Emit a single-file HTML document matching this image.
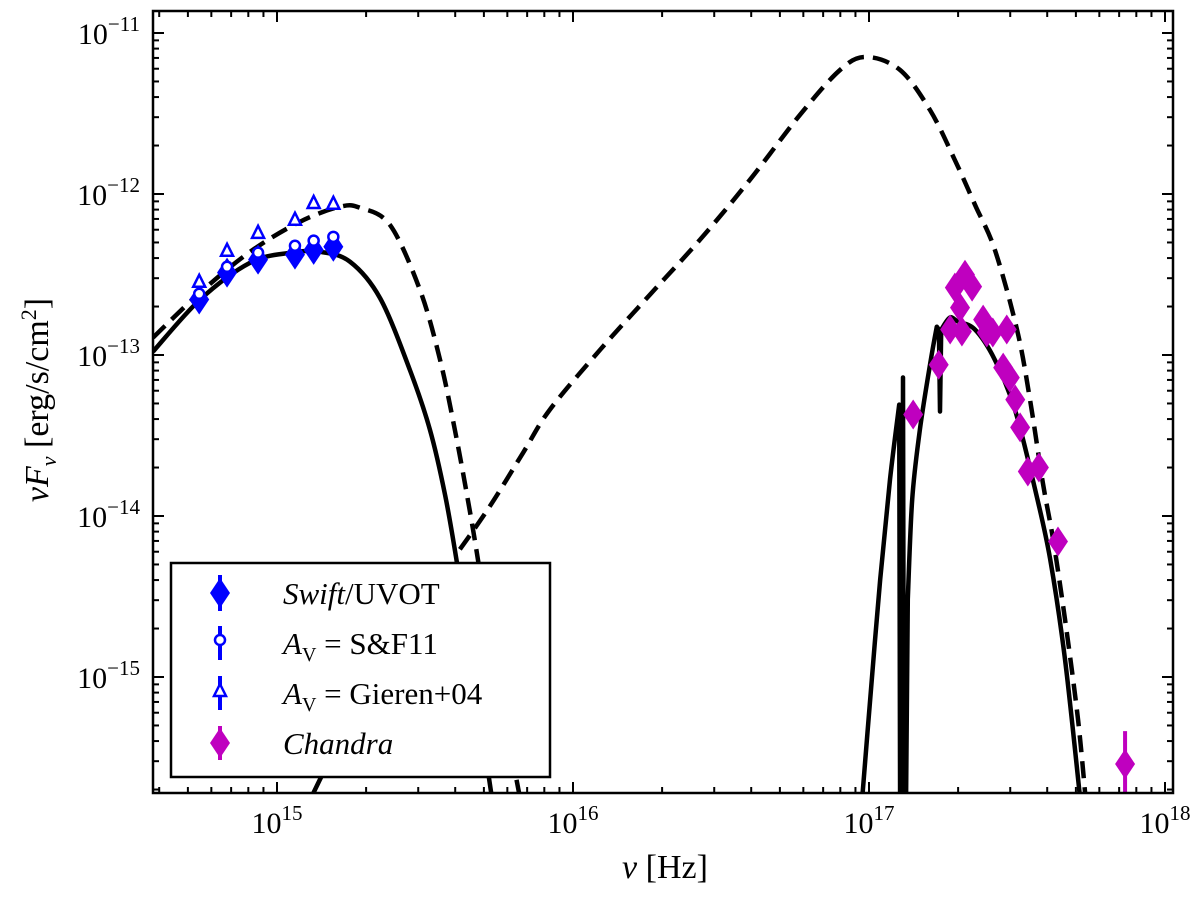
<!DOCTYPE html>
<html><head><meta charset="utf-8"><style>
body{margin:0;background:#fff;}
svg{display:block;font-family:"Liberation Serif",serif;}
</style></head><body>
<svg id="chart" width="1200" height="898" viewBox="0 0 1200 898" xmlns="http://www.w3.org/2000/svg">
<rect width="1200" height="898" fill="#fff"/>
<defs><clipPath id="plotclip"><rect x="153" y="11" width="1020" height="782"/></clipPath></defs>
<g id="curves" clip-path="url(#plotclip)"></g>
<g id="points" clip-path="url(#plotclip)"></g>
<g id="axes"></g>
<g id="legend"></g>
<text x="665" y="878" font-size="34" text-anchor="middle"><tspan font-style="italic">ν</tspan> [Hz]</text>
<text transform="translate(48,400) rotate(-90)" font-size="34" text-anchor="middle"><tspan font-style="italic">νF</tspan><tspan font-style="italic" font-size="22" dy="8">ν</tspan><tspan dy="-8"> [erg/s/cm</tspan><tspan font-size="22" dy="-12">2</tspan><tspan dy="12">]</tspan></text>
</svg>
<script>
// ---- data ----
const swiftNu = [5.46e14, 6.78e14, 8.63e14, 1.15e15, 1.33e15, 1.55e15];
const swiftFlux = [2.21e-13, 3.25e-13, 3.91e-13, 4.2e-13, 4.5e-13, 4.7e-13];
const sf11Flux = [2.4e-13, 3.53e-13, 4.32e-13, 4.77e-13, 5.13e-13, 5.42e-13];
const gierenFlux = [2.85e-13, 4.44e-13, 5.74e-13, 6.92e-13, 8.8e-13, 8.7e-13];
const chandraNu = [1.41e17,1.72e17,1.88e17,2.06e17,1.95e17,2.11e17,2.23e17,2.03e17,2.43e17,2.50e17,2.62e17,2.92e17,2.84e17,2.99e17,3.12e17,3.24e17,3.44e17,3.75e17,4.35e17,7.33e17];
const chandraFlux = [4.27e-14,8.7e-14,1.44e-13,1.40e-13,2.62e-13,3.15e-13,2.66e-13,1.97e-13,1.66e-13,1.38e-13,1.38e-13,1.44e-13,8.35e-14,7.24e-14,5.28e-14,3.55e-14,1.89e-14,2.0e-14,6.95e-15,2.88e-16];
const chandraErrFrac = [0.1,0.1,0.1,0.1,0.1,0.1,0.1,0.1,0.1,0.1,0.1,0.1,0.1,0.1,0.1,0.1,0.1,0.1,0.1,0.6];
// model curves in log10 units
const solidLeftLogNu = [14.581,14.740,14.909,15.044,15.145,15.247,15.348,15.449,15.517,15.568,15.608,15.652,15.73];
const solidLeftLogF = [-12.979,-12.656,-12.427,-12.365,-12.359,-12.421,-12.646,-13.093,-13.466,-13.870,-14.292,-14.832,-15.8];
const solidLowLogNu = [15.102,15.162,15.213];
const solidLowLogF = [-15.8,-15.572,-15.386];
const dashLeftLogNu = [14.581,14.740,14.909,15.078,15.213,15.281,15.382,15.483,15.551,15.601,15.645,15.679,15.720,15.826];
const dashLeftLogF = [-12.892,-12.613,-12.359,-12.172,-12.079,-12.086,-12.193,-12.596,-13.031,-13.466,-13.901,-14.273,-14.770,-15.8];
const dashRightLogNu = [15.618,15.719,15.832,15.922,16.092,16.260,16.429,16.598,16.767,16.902,16.990,17.105,17.206,17.290,17.358,17.425,17.500,17.544,17.587,17.622,17.662,17.706,17.734];
const dashRightLogF = [-14.207,-13.940,-13.605,-13.339,-12.967,-12.625,-12.284,-11.911,-11.508,-11.230,-11.149,-11.230,-11.478,-11.788,-12.067,-12.346,-12.842,-13.277,-13.792,-14.145,-14.641,-15.262,-15.8];
const solidRightLogNu = [16.975,17.004,17.038,17.071,17.102,17.105,17.112,17.115,17.118,17.125,17.131,17.146,17.172,17.206,17.229,17.236,17.240,17.244,17.273,17.301,17.358,17.425,17.493,17.561,17.612,17.662,17.716];
const solidRightLogF = [-15.8,-15.138,-14.393,-13.773,-13.308,-15.8,-15.8,-13.140,-15.8,-15.8,-14.517,-13.897,-13.463,-13.060,-12.824,-12.842,-13.351,-12.842,-12.768,-12.793,-12.842,-13.029,-13.339,-13.835,-14.269,-14.890,-15.8];
const xTickExps = [15,16,17,18];
const yTickExps = [-11,-12,-13,-14,-15];

// ---- axis functions ----
const L=153,R=1173,T=11,B=793;
const X0=277, XD=296, Y0=33, YD=161;
function xl(lx){return X0+(lx-15)*XD;}
function yl(ly){return Y0+(-11-ly)*YD;}
function xs(v){return xl(Math.log10(v));}
function ys(v){return yl(Math.log10(v));}
const NS="http://www.w3.org/2000/svg";
function mk(tag,attrs,parent){const e=document.createElementNS(NS,tag);for(const k in attrs)e.setAttribute(k,attrs[k]);parent.appendChild(e);return e;}

const curves=document.getElementById('curves');
function curve(lnu,lf,dashed,name){
  const P=lnu.map((v,i)=>[xl(v),yl(lf[i])]);
  const n=P.length;
  const sharp=i=>(i<0||i>=n-1)?true:(lnu[i+1]-lnu[i])<0.012;
  let d='M'+P[0][0].toFixed(1)+','+P[0][1].toFixed(1);
  for(let i=0;i<n-1;i++){
    const p1=P[i],p2=P[i+1];
    if(sharp(i)){d+='L'+p2[0].toFixed(1)+','+p2[1].toFixed(1);continue;}
    const p0=(i>0&&!sharp(i-1))?P[i-1]:p1;
    const p3=(i+2<n&&!sharp(i+1))?P[i+2]:p2;
    const c1=[p1[0]+(p2[0]-p0[0])/6,p1[1]+(p2[1]-p0[1])/6];
    const c2=[p2[0]-(p3[0]-p1[0])/6,p2[1]-(p3[1]-p1[1])/6];
    d+='C'+c1[0].toFixed(1)+','+c1[1].toFixed(1)+' '+c2[0].toFixed(1)+','+c2[1].toFixed(1)+' '+p2[0].toFixed(1)+','+p2[1].toFixed(1);
  }
  const p=mk('path',{d:d,fill:'none',stroke:'#000','stroke-width':4.5,'stroke-linejoin':'round'},curves);
  if(dashed)p.setAttribute('stroke-dasharray','17,9');
  
  
}
curve(solidLeftLogNu,solidLeftLogF,false,'model-solid-optical');
curve(solidLowLogNu,solidLowLogF,false,'model-solid-low');
curve(dashLeftLogNu,dashLeftLogF,true,'model-dashed-optical');
curve(dashRightLogNu,dashRightLogF,true,'model-dashed-xray');
curve(solidRightLogNu,solidRightLogF,false,'model-solid-xray');

const pts=document.getElementById('points');
function diamond(cx,cy,col,parent){return mk('polygon',{points:`${cx},${cy-15} ${cx+10},${cy} ${cx},${cy+15} ${cx-10},${cy}`,fill:col},parent);}
function tri(cx,cy,parent){return mk('polygon',{points:`${cx},${cy-7} ${cx+6},${cy+5} ${cx-6},${cy+5}`,fill:'#fff',stroke:'#0000ff','stroke-width':2.5},parent);}
const BLUE='#0000ff', MAG='#bf00bf';
for(let i=0;i<swiftNu.length;i++){
  const x=xs(swiftNu[i]);
  const d=diamond(x,ys(swiftFlux[i]),BLUE,pts);
  
  
}
for(let i=0;i<swiftNu.length;i++){
  const x=xs(swiftNu[i]);
  const c=mk('circle',{cx:x,cy:ys(sf11Flux[i]),r:5,fill:'#fff',stroke:BLUE,'stroke-width':2.5},pts);
  
  
  const t=tri(x,ys(gierenFlux[i]),pts);
  
  
}
for(let i=0;i<chandraNu.length;i++){
  const x=xs(chandraNu[i]), f=chandraFlux[i], e=chandraErrFrac[i];
  const eb=mk('line',{x1:x,x2:x,y1:ys(f*(1+e)),y2:ys(f/(1+e)),stroke:MAG,'stroke-width':4},pts);
  
  
  const d=diamond(x,ys(f),MAG,pts);
  
  
}

// ---- axes ----
const ax=document.getElementById('axes');
const frame=mk('rect',{x:L,y:T,width:R-L,height:B-T,fill:'none',stroke:'#000','stroke-width':2.5},ax);


function tick(x1,y1,x2,y2){mk('line',{x1,y1,x2,y2,stroke:'#000','stroke-width':2},ax);}
for(let e=14;e<=18;e++){for(let m=1;m<10;m++){const x=xl(e+Math.log10(m));if(x<L+1||x>R-1)continue;const len=m===1?11:6;tick(x,B,x,B-len);tick(x,T,x,T+len);}}
for(let e=-16;e<=-11;e++){for(let m=1;m<10;m++){const y=yl(e+Math.log10(m));if(y<T+1||y>B-1)continue;const len=m===1?11:6;tick(L,y,L+len,y);tick(R,y,R-len,y);}}
for(const e of xTickExps){
  const t=mk('text',{x:xl(e),y:833,'font-size':30,'text-anchor':'middle'},ax);
  t.innerHTML='10<tspan font-size="21" dy="-13">'+e+'</tspan>';
  
  
}
for(const e of yTickExps){
  const t=mk('text',{x:140,y:yl(e)+11,'font-size':30,'text-anchor':'end'},ax);
  t.innerHTML='10<tspan font-size="21" dy="-13">−'+(-e)+'</tspan>';
  
  
}

// ---- legend ----
const lg=document.getElementById('legend');
mk('rect',{x:171,y:563,width:379,height:214,fill:'#fff',stroke:'#000','stroke-width':2.5},lg);
const rows=[593,643,693,743], mx=220, tx=283;
mk('line',{x1:mx,x2:mx,y1:rows[0]-18,y2:rows[0]+18,stroke:BLUE,'stroke-width':4},lg);
diamond(mx,rows[0],BLUE,lg);
mk('line',{x1:mx,x2:mx,y1:rows[1]-17,y2:rows[1]+17,stroke:BLUE,'stroke-width':4},lg);
mk('circle',{cx:mx,cy:rows[1]-3,r:5,fill:'#fff',stroke:BLUE,'stroke-width':2.5},lg);
mk('line',{x1:mx,x2:mx,y1:rows[2]-17,y2:rows[2]+17,stroke:BLUE,'stroke-width':4},lg);
tri(mx,rows[2]-2,lg);
mk('line',{x1:mx,x2:mx,y1:rows[3]-17,y2:rows[3]+17,stroke:MAG,'stroke-width':4},lg);
diamond(mx,rows[3],MAG,lg);
const labels=['<tspan font-style="italic">Swift</tspan>/UVOT',
 '<tspan font-style="italic">A</tspan><tspan font-size="20" dy="7">V</tspan><tspan dy="-7"> = S&amp;F11</tspan>',
 '<tspan font-style="italic">A</tspan><tspan font-size="20" dy="7">V</tspan><tspan dy="-7"> = Gieren+04</tspan>',
 '<tspan font-style="italic">Chandra</tspan>'];
const names=['legend-swift','legend-sf11','legend-gieren','legend-chandra'];
for(let i=0;i<4;i++){
  const t=mk('text',{x:tx,y:rows[i]+11,'font-size':31},lg);
  t.innerHTML=labels[i];
  
  
}
</script>
</body></html>
